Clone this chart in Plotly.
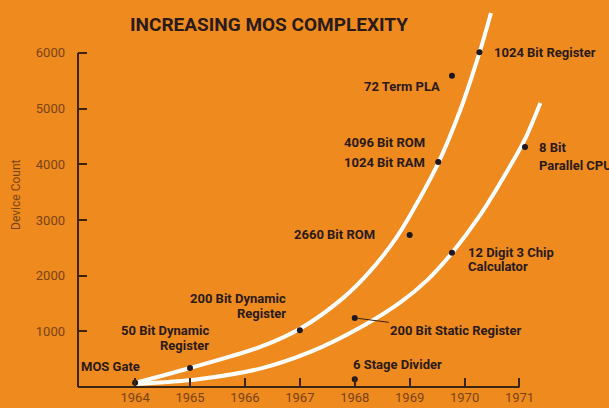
import plotly.graph_objects as go

# ---------------- data ----------------
chip_names = ["MOS Gate", "50 Bit Dynamic<br>Register", "200 Bit Dynamic<br>Register",
              "200 Bit Static Register", "6 Stage Divider", "2660 Bit ROM",
              "12 Digit 3 Chip<br>Calculator", "4096 Bit ROM<br>1024 Bit RAM",
              "8 Bit<br>Parallel CPU", "72 Term PLA", "1024 Bit Register"]
chip_years = [1964.0, 1965.0, 1967.0, 1968.0, 1968.0, 1969.0, 1969.77, 1969.52, 1971.1, 1969.77, 1970.27]
chip_counts = [75, 340, 1020, 1240, 140, 2730, 2410, 4040, 4310, 5590, 6010]

upper_curve_years = [1964.0, 1965.0, 1966.28, 1967.01, 1967.79, 1968.28, 1968.77, 1969.19, 1969.52, 1969.92, 1970.27, 1970.48]
upper_curve_counts = [72, 341, 720, 1050, 1600, 2080, 2700, 3400, 4020, 4970, 6000, 6718]

lower_curve_years = [1964.0, 1965.18, 1966.28, 1967.19, 1968.10, 1968.83, 1969.32, 1969.77, 1970.28, 1970.89, 1971.10, 1971.38]
lower_curve_counts = [54, 144, 330, 630, 1070, 1520, 1920, 2407, 3080, 4070, 4450, 5101]

year_ticks = [1964, 1965, 1966, 1967, 1968, 1969, 1970, 1971]
count_ticks = [1000, 2000, 3000, 4000, 5000, 6000]

title_text = "INCREASING MOS COMPLEXITY"
y_title = "Device Count"

# ---------------- label placement (styling) ----------------
# (xanchor, xshift, yshift of first line, line gap) per chip label
label_style = [
    ("right", 7, 16, 0),
    ("right", 21, 38, 15),
    ("right", -12, 32, 15),
    None,  # leader-line label handled separately
    ("left", -4, 15, 0),
    ("right", -33, 0, 0),
    ("left", 14, 0, 14),
    ("right", -11, 20, 20),
    ("left", 12, 0, 18),
    ("right", -10, -11, 0),
    ("left", 13, 0, 0),
]

BG = "#EE8A1E"
DARK = "#2a1a18"
AXIS = "#3a2412"
TICKTXT = "#7a4414"
FONT = "Roboto, Liberation Sans, sans-serif"

x_range = [1962.96, 1972.63]
y_range = [0, 6860]

fig = go.Figure()

for xs, ys in [(upper_curve_years, upper_curve_counts), (lower_curve_years, lower_curve_counts)]:
    fig.add_trace(go.Scatter(x=xs, y=ys, mode="lines",
                             line=dict(color="white", width=4, shape="spline", smoothing=1.0),
                             hoverinfo="skip", showlegend=False))

fig.add_trace(go.Scatter(x=chip_years, y=chip_counts, mode="markers",
                         marker=dict(color="#1c1620", size=6),
                         text=[n.replace("<br>", " ") for n in chip_names],
                         hoverinfo="text", showlegend=False, cliponaxis=False))

label_font = dict(family=FONT, size=13, color=DARK, weight="bold")
annotations = []
for name, xv, yv, st in zip(chip_names, chip_years, chip_counts, label_style):
    if st is None:
        annotations.append(dict(x=xv, y=yv, xref="x", yref="y", text=name,
                                showarrow=True, arrowhead=0, arrowwidth=1, arrowcolor=AXIS,
                                ax=101, ay=13, standoff=3, startstandoff=0, font=label_font))
        continue
    xa, xs_, ys_, gap = st
    for i, line in enumerate(name.split("<br>")):
        annotations.append(dict(x=xv, y=yv, xref="x", yref="y", text=line, showarrow=False,
                                xanchor=xa, yanchor="middle", align=xa,
                                xshift=xs_, yshift=ys_ - i * gap, font=label_font))

annotations.append(dict(x=-0.117, y=0.5026, xref="paper", yref="paper", text=y_title,
                        textangle=-90, showarrow=False, xanchor="center", yanchor="middle",
                        font=dict(family=FONT, size=12, color=TICKTXT)))

shapes = [
    dict(type="line", xref="paper", yref="y", x0=0, x1=0, y0=0, y1=count_ticks[-1],
         line=dict(color=AXIS, width=2)),
    dict(type="line", xref="x", yref="paper", x0=x_range[0], x1=year_ticks[-1], y0=0, y1=0,
         line=dict(color=AXIS, width=2)),
]

fig.update_layout(
    width=609, height=408,
    paper_bgcolor=BG, plot_bgcolor=BG,
    margin=dict(l=78, r=0, t=5, b=21),
    title=dict(text=title_text, x=269 / 609, y=1 - 24 / 408, xanchor="center", yanchor="middle",
               font=dict(family=FONT, size=19, color=DARK, weight="bold")),
    xaxis=dict(range=x_range, showgrid=False, zeroline=False, showline=False,
               tickmode="array", tickvals=year_ticks, ticktext=[str(v) for v in year_ticks],
               ticks="inside", ticklen=9, tickwidth=1.5, tickcolor=AXIS,
               tickfont=dict(family=FONT, size=13, color=TICKTXT), ticklabelstandoff=1),
    yaxis=dict(range=y_range, showgrid=False, zeroline=False, showline=False,
               tickmode="array", tickvals=count_ticks, ticktext=[str(v) for v in count_ticks],
               ticks="inside", ticklen=9, tickwidth=1.5, tickcolor=AXIS,
               tickfont=dict(family=FONT, size=13, color=TICKTXT), ticklabelstandoff=12),
    annotations=annotations,
    shapes=shapes,
    showlegend=False,
)

fig.write_html("out.html", config={"displayModeBar": False},
               post_script="document.body.style.margin='0';document.body.style.background='#EE8A1E';")
